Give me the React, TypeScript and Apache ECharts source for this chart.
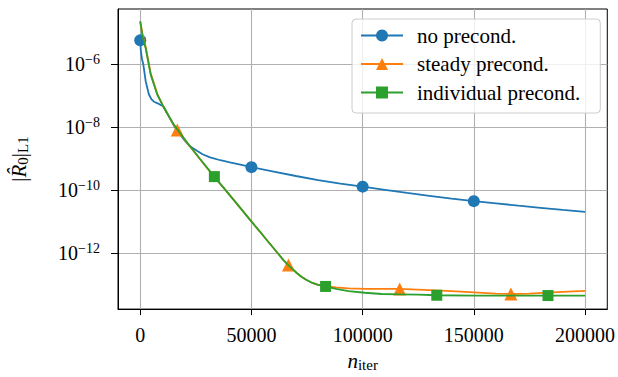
import React, { useEffect, useRef } from 'react';
import * as echarts from 'echarts';

// tick positions
const xTickValues = [0, 50000, 100000, 150000, 200000];
const yTickExponents = [-12, -10, -8, -6];

// "no precond." series
const noPrecondIter = [0, 300, 800, 1400, 2450, 3900, 5000, 6150, 8400, 10600, 13600, 16000, 19500, 22000, 25500, 28000, 31400, 36000, 40300, 45000, 50000, 60000, 70000, 80000, 90000, 100000, 110000, 120000, 130000, 140000, 150000, 160000, 170000, 180000, 190000, 200000];
const noPrecondRes = [5.62e-6, 2.51e-6, 1.41e-6, 9.55e-7, 2.82e-7, 1.07e-7, 7.59e-8, 6.31e-8, 5.37e-8, 4.37e-8, 1.74e-8, 8.71e-9, 4.07e-9, 2.51e-9, 1.74e-9, 1.35e-9, 1.07e-9, 8.71e-10, 7.41e-10, 6.31e-10, 5.25e-10, 3.8e-10, 2.75e-10, 2.04e-10, 1.58e-10, 1.26e-10, 1.0e-10, 7.94e-11, 6.46e-11, 5.25e-11, 4.37e-11, 3.72e-11, 3.16e-11, 2.69e-11, 2.29e-11, 2.0e-11];
const noPrecondMarkers = [0, 50000, 100000, 150000];

// "steady precond." series
const steadyIter = [0, 1000, 2450, 4700, 7650, 10600, 15000, 16667, 21000, 26900, 33333, 38000, 44700, 49200, 53600, 56600, 62500, 64500, 66667, 68500, 70500, 72500, 74400, 77400, 80000, 83333, 88000, 93700, 101000, 116667, 130000, 140000, 150000, 160000, 166667, 175000, 185000, 200000];
const steadyRes = [2.24e-5, 8.91e-6, 3.39e-6, 5.01e-7, 1.12e-7, 4.17e-8, 1.17e-8, 7.94e-9, 3.16e-9, 9.33e-10, 2.51e-10, 1.05e-10, 2.82e-11, 1.15e-11, 4.9e-12, 2.69e-12, 8.51e-13, 5.75e-13, 4.07e-13, 3.02e-13, 2.24e-13, 1.74e-13, 1.41e-13, 1.1e-13, 9.55e-14, 8.71e-14, 7.94e-14, 7.41e-14, 7.08e-14, 7.08e-14, 6.46e-14, 6.03e-14, 5.5e-14, 5.01e-14, 4.9e-14, 5.01e-14, 5.5e-14, 6.17e-14];
const steadyMarkers = [16667, 66667, 116667, 166667];

// "individual precond." series
const individualIter = [0, 1000, 2450, 4700, 7650, 10600, 15000, 21000, 26900, 33333, 38000, 44700, 49200, 53600, 56600, 62500, 64500, 66667, 68500, 70500, 72500, 74400, 77400, 80000, 83333, 88000, 93700, 101000, 108500, 116667, 125000, 133333, 150000, 166667, 183333, 200000];
const individualRes = [2.24e-5, 7.94e-6, 3.16e-6, 4.57e-7, 1.07e-7, 4.07e-8, 1.2e-8, 3.24e-9, 9.55e-10, 2.63e-10, 1.05e-10, 2.82e-11, 1.15e-11, 4.9e-12, 2.69e-12, 8.51e-13, 5.75e-13, 3.98e-13, 3.02e-13, 2.24e-13, 1.74e-13, 1.41e-13, 1.1e-13, 9.55e-14, 8.51e-14, 7.08e-14, 6.03e-14, 5.37e-14, 4.9e-14, 4.79e-14, 4.68e-14, 4.47e-14, 4.37e-14, 4.37e-14, 4.37e-14, 4.37e-14];
const individualMarkers = [33333, 83333, 133333, 183333];

const seriesNames = ['no precond.', 'steady precond.', 'individual precond.'];
const seriesColors = ['#1f77b4', '#ff7f0e', '#2ca02c'];

const FONT = 'Liberation Serif';

function buildData(iters: number[], res: number[], markers: number[]) {
  return iters.map((n, i) => {
    const item: any = { value: [n, Math.log10(res[i])] };
    if (!markers.includes(n)) item.symbol = 'none';
    return item;
  });
}

export default function App() {
  const ref = useRef<HTMLDivElement>(null);
  useEffect(() => {
    if (!ref.current) return;
    const chart = echarts.init(ref.current, undefined, { renderer: 'svg' });
    const mk = (idx: number, iters: number[], res: number[], markers: number[], symbol: string, size: number) => ({
      name: seriesNames[idx],
      type: 'line',
      data: buildData(iters, res, markers),
      symbol,
      symbolSize: size,
      showSymbol: true,
      showAllSymbol: true,
      color: seriesColors[idx],
      lineStyle: { width: 1.8, color: seriesColors[idx] },
      itemStyle: { color: seriesColors[idx] },
      z: 3 + idx,
    });
    chart.setOption({
      animation: false,
      grid: {
        left: 117,
        top: 9,
        right: 7,
        bottom: 66,
        show: true,
        borderColor: '#000',
        borderWidth: 1,
        backgroundColor: 'transparent',
      },
      legend: {
        left: 352,
        top: 19,
        orient: 'vertical',
        itemWidth: 42,
        itemHeight: 15,
        itemGap: 7.5,
        padding: [6, 20, 10, 8],
        backgroundColor: 'rgba(255,255,255,0.8)',
        borderColor: '#cccccc',
        borderWidth: 1,
        borderRadius: 4,
        textStyle: {
          fontFamily: FONT,
          fontSize: 21,
          color: '#000',
          lineHeight: 20,
          padding: [0, 0, 0, 9],
        },
        data: seriesNames,
      },
      xAxis: {
        type: 'value',
        min: -10000,
        max: 210000,
        name: '{n|n}{s|iter}',
        nameLocation: 'middle',
        nameGap: 37,
        nameTextStyle: {
          rich: {
            n: { fontFamily: FONT, fontStyle: 'italic', fontSize: 21, color: '#000' },
            s: { fontFamily: FONT, fontSize: 15, color: '#000', padding: [8, 0, 0, 0] },
          },
        },
        axisLine: { show: true, onZero: false, lineStyle: { color: '#000', width: 1 } },
        axisTick: { show: true, inside: false, length: 6, lineStyle: { color: '#000', width: 1 }, customValues: xTickValues },
        axisLabel: {
          customValues: xTickValues,
          fontFamily: FONT,
          fontSize: 20,
          color: '#000',
          margin: 16,
          formatter: (v: number) => String(v),
        },
        splitLine: { show: true, lineStyle: { color: '#b0b0b0', width: 1.1 } },
      },
      yAxis: {
        type: 'value',
        min: -13.79,
        max: -4.254,
        name: '{r||}{ri|R̂}{s|0}{r||}{s|L1}',
        nameLocation: 'middle',
        nameGap: 88,
        nameRotate: 90,
        nameTextStyle: {
          rich: {
            r: { fontFamily: FONT, fontSize: 21, color: '#000' },
            ri: { fontFamily: FONT, fontSize: 21, fontStyle: 'italic', color: '#000' },
            s: { fontFamily: FONT, fontSize: 15, color: '#000', padding: [8, 0, 0, 0] },
          },
        },
        axisLine: { show: true, onZero: false, lineStyle: { color: '#000', width: 1 } },
        axisTick: { show: true, inside: false, length: 7, lineStyle: { color: '#000', width: 1 }, customValues: yTickExponents },
        axisLabel: {
          customValues: yTickExponents,
          margin: 18,
          formatter: (v: number) => `{b|10}{s|−${Math.abs(Math.round(v))}}`,
          rich: {
            b: { fontFamily: FONT, fontSize: 20, color: '#000' },
            s: { fontFamily: FONT, fontSize: 14, color: '#000', padding: [0, 0, 9, 0] },
          },
        },
        splitLine: { show: true, lineStyle: { color: '#b0b0b0', width: 1.1 } },
      },
      series: [
        mk(0, noPrecondIter, noPrecondRes, noPrecondMarkers, 'circle', 12),
        mk(1, steadyIter, steadyRes, steadyMarkers, 'triangle', 13),
        mk(2, individualIter, individualRes, individualMarkers, 'rect', 11),
      ],
    });
    return () => chart.dispose();
  }, []);
  return <div ref={ref} style={{ position: 'absolute', left: 0, top: 0, width: 618, height: 377 }} />;
}
